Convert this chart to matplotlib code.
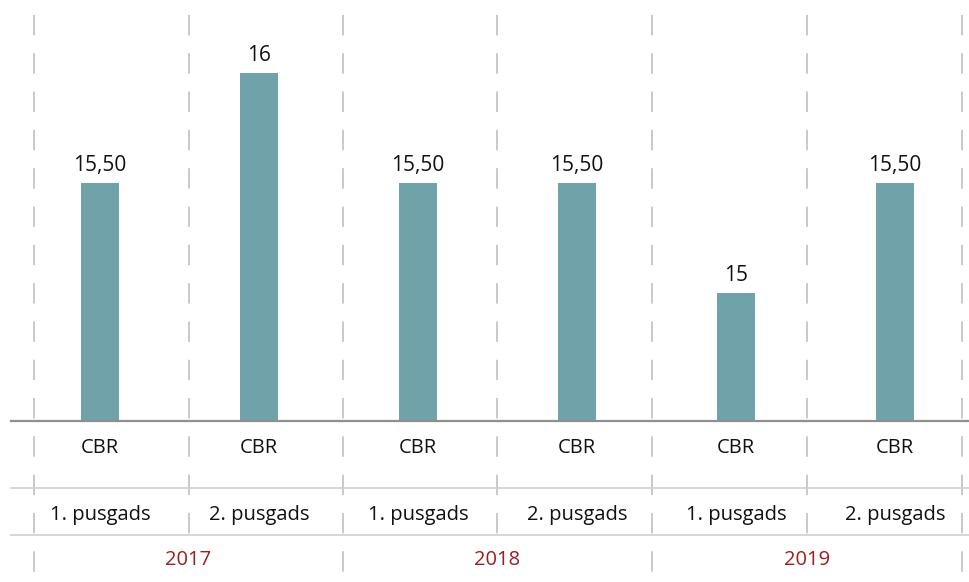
import matplotlib.pyplot as plt
from matplotlib.transforms import blended_transform_factory

plt.rcParams['font.family'] = ['Open Sans', 'DejaVu Sans']

W, H = 969, 582

series = ['CBR', 'CBR', 'CBR', 'CBR', 'CBR', 'CBR']
halves = ['1. pusgads', '2. pusgads', '1. pusgads', '2. pusgads', '1. pusgads', '2. pusgads']
years = ['2017', '2018', '2019']
values = [15.5, 16, 15.5, 15.5, 15, 15.5]

BAR = '#6fa3a9'
GRID = '#c9c9c9'
YEAR = '#9b1f22'
TXT = '#111111'


def fmt(v):
    if v == int(v):
        return str(int(v))
    return f'{v:.2f}'.replace('.', ',')


fig = plt.figure(figsize=(W / 100, H / 100), dpi=100)
base_px = 421
ax = fig.add_axes([0, 1 - base_px / H, 1, base_px / H])

# category i is centred at pixel 100 + 159 * i
step = 159
x0 = 100
ax.set_xlim(-x0 / step, (W - x0) / step)
ax.set_ylim(14.42, 16.33)
ax.axis('off')

xs = list(range(len(values)))
bars = ax.bar(xs, values, width=0.24, color=BAR, zorder=3)
for b, v in zip(bars, values):
    ax.annotate(fmt(v), (b.get_x() + b.get_width() / 2, v), xytext=(0, 5),
                textcoords='offset points', ha='center', va='bottom',
                fontsize=15, color=TXT)


def ay(px):
    # pixel row (from top) -> axes y
    return (base_px - px) / base_px


tr = blended_transform_factory(ax.transData, ax.transAxes)
tra = ax.transAxes

# dashed separators
div_px = [34, 189, 343, 497, 652, 807, 962]
divs = [(p - x0) / step for p in div_px]
for k, d in enumerate(divs):
    bottom = ay(H) if k % 2 == 0 else ay(535)
    ax.plot([d, d], [1, bottom], transform=tr, color=GRID, lw=1.4,
            linestyle=(12, (10.5, 9.2)), clip_on=False, zorder=1)

# horizontal rules
ax.plot([11 / W, 1], [0, 0], transform=tra, color='#8f8f8f', lw=1.6,
        clip_on=False, zorder=4)
for row in (488, 535):
    ax.plot([11 / W, 1], [ay(row), ay(row)], transform=tra, color='#d0d0d0',
            lw=1.2, clip_on=False, zorder=2)

for i, (s, h) in enumerate(zip(series, halves)):
    ax.text(i, ay(448), s, transform=tr, ha='center', va='center',
            fontsize=14.5, color=TXT)
    ax.text(i, ay(515), h, transform=tr, ha='center', va='center',
            fontsize=14.5, color=TXT)

for j, y in enumerate(years):
    xc = (divs[2 * j] + divs[2 * j + 2]) / 2
    ax.text(xc, ay(560), y, transform=tr, ha='center', va='center',
            fontsize=14.5, color=YEAR)

fig.savefig('out.png', dpi=100)
